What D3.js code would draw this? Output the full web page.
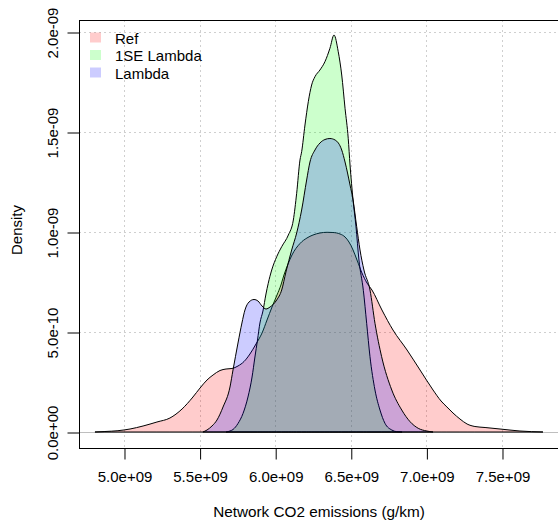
<!DOCTYPE html>
<html>
<head>
<meta charset="utf-8">
<script src="https://cdn.jsdelivr.net/npm/d3@7"></script>
<style>
  html, body { margin: 0; padding: 0; background: #fff; }
  svg { display: block; }
  text { font-family: "Liberation Sans", Arial, sans-serif; fill: #000; }
</style>
</head>
<body>
<svg id="chart" width="558" height="524"></svg>
<script>
// ---- Data (x in units of 1e9 g/km, density in units of 1e-9) ----
const seriesNames = ["Ref", "1SE Lambda", "Lambda"];
const seriesColors = ["rgba(255,0,0,0.2)", "rgba(0,255,0,0.2)", "rgba(0,0,255,0.2)"];

const refX = [4.808, 4.874, 4.960, 5.040, 5.126, 5.218, 5.304, 5.384, 5.456, 5.503, 5.549, 5.589, 5.635, 5.675, 5.714, 5.754, 5.794, 5.833, 5.873, 5.913, 5.946, 5.979, 6.012, 6.038, 6.058, 6.085, 6.111, 6.164, 6.210, 6.250, 6.296, 6.343, 6.382, 6.429, 6.462, 6.488, 6.515, 6.541, 6.574, 6.607, 6.640, 6.706, 6.779, 6.872, 6.958, 7.044, 7.097, 7.136, 7.176, 7.222, 7.269, 7.321, 7.388, 7.487, 7.619, 7.771];
const refY = [0, 0.0025, 0.0065, 0.015, 0.03, 0.05, 0.07, 0.115, 0.175, 0.22, 0.26, 0.285, 0.3075, 0.315, 0.3175, 0.33, 0.3525, 0.39, 0.44, 0.495, 0.56, 0.625, 0.685, 0.735, 0.785, 0.84, 0.885, 0.9425, 0.97, 0.985, 0.995, 0.9985, 0.9975, 0.99, 0.975, 0.95, 0.91, 0.86, 0.795, 0.745, 0.71, 0.61, 0.51, 0.41, 0.31, 0.21, 0.155, 0.125, 0.095, 0.065, 0.04, 0.0275, 0.0225, 0.015, 0.005, 0];

const seX = [5.675, 5.701, 5.721, 5.754, 5.787, 5.820, 5.847, 5.866, 5.883, 5.899, 5.919, 5.939, 5.954, 5.977, 6.010, 6.043, 6.087, 6.120, 6.142, 6.164, 6.175, 6.197, 6.219, 6.241, 6.263, 6.296, 6.329, 6.362, 6.389, 6.417, 6.440, 6.462, 6.483, 6.495, 6.515, 6.534, 6.554, 6.583, 6.605, 6.627, 6.660, 6.693, 6.726, 6.771, 6.804, 6.839];
const seY = [0, 0.005, 0.0125, 0.0425, 0.0925, 0.175, 0.275, 0.375, 0.46, 0.545, 0.605, 0.69, 0.7435, 0.81, 0.8765, 0.9265, 0.985, 1.06, 1.1935, 1.36, 1.4015, 1.535, 1.6515, 1.735, 1.7765, 1.81, 1.8515, 1.9185, 1.985, 1.9015, 1.785, 1.6185, 1.4685, 1.335, 1.16, 1.03, 0.86, 0.7085, 0.5435, 0.3765, 0.21, 0.11, 0.0435, 0.01, 0.0015, 0];

const lamX = [5.522, 5.549, 5.582, 5.615, 5.655, 5.701, 5.721, 5.754, 5.780, 5.800, 5.827, 5.860, 5.886, 5.913, 5.939, 5.966, 6.010, 6.043, 6.071, 6.109, 6.142, 6.175, 6.208, 6.230, 6.263, 6.296, 6.329, 6.362, 6.396, 6.440, 6.462, 6.495, 6.515, 6.539, 6.561, 6.587, 6.627, 6.660, 6.704, 6.771, 6.837, 6.892, 6.946, 7.002, 7.044];
const lamY = [0, 0.01, 0.03, 0.06, 0.125, 0.225, 0.31, 0.445, 0.545, 0.61, 0.65, 0.6625, 0.655, 0.63, 0.615, 0.625, 0.66, 0.71, 0.8, 0.91, 0.995, 1.11, 1.26, 1.35, 1.41, 1.445, 1.4625, 1.4675, 1.46, 1.41, 1.35, 1.235, 1.16, 1.0265, 0.91, 0.81, 0.71, 0.5435, 0.3765, 0.21, 0.11, 0.0515, 0.0185, 0.005, 0];

const xTicks = [5.0, 5.5, 6.0, 6.5, 7.0, 7.5];
const xTickLabels = ["5.0e+09", "5.5e+09", "6.0e+09", "6.5e+09", "7.0e+09", "7.5e+09"];
const yTicks = [0, 0.5, 1.0, 1.5, 2.0];
const yTickLabels = ["0.0e+00", "5.0e-10", "1.0e-09", "1.5e-09", "2.0e-09"];
const xTitle = "Network CO2 emissions (g/km)";
const yTitle = "Density";

// ---- Layout ----
const box = { left: 79, top: 20, right: 561, bottom: 448 };
const svg = d3.select("#chart");
const FONT = '"Liberation Sans", Arial, sans-serif';

const x = d3.scaleLinear().domain([4.7024, 7.8903]).range([box.left, box.right]);
const y = d3.scaleLinear().domain([-0.08, 2.06]).range([box.bottom, box.top]);

svg.append("defs").append("clipPath").attr("id", "plotclip")
  .append("rect").attr("x", box.left).attr("y", box.top)
  .attr("width", box.right - box.left).attr("height", box.bottom - box.top);

const plot = svg.append("g").attr("clip-path", "url(#plotclip)");

// grid (dotted light gray)
plot.selectAll("line.vgrid").data(xTicks).enter().append("line")
  .attr("x1", d => Math.round(x(d)) + 0.5).attr("x2", d => Math.round(x(d)) + 0.5)
  .attr("y1", box.top).attr("y2", box.bottom)
  .attr("stroke", "#cfcfcf").attr("stroke-width", 1).attr("stroke-dasharray", "2,3");
plot.selectAll("line.hgrid").data(yTicks).enter().append("line")
  .attr("y1", d => Math.round(y(d)) + 0.5).attr("y2", d => Math.round(y(d)) + 0.5)
  .attr("x1", box.left).attr("x2", box.right)
  .attr("stroke", "#cfcfcf").attr("stroke-width", 1).attr("stroke-dasharray", "2,3");

// zero line
plot.append("line")
  .attr("x1", box.left).attr("x2", box.right)
  .attr("y1", Math.round(y(0)) + 0.5).attr("y2", Math.round(y(0)) + 0.5)
  .attr("stroke", "#bebebe").attr("stroke-width", 1);

// density polygons
const seriesData = [d3.zip(refX, refY), d3.zip(seX, seY), d3.zip(lamX, lamY)];
const area = d3.area()
  .x(d => x(d[0]))
  .y0(y(0))
  .y1(d => y(d[1]))
  .curve(d3.curveMonotoneX);

seriesData.forEach((pts, i) => {
  plot.append("path")
    .attr("d", area(pts))
    .attr("fill", seriesColors[i])
    .attr("stroke", "#000")
    .attr("stroke-width", 1)
    .attr("stroke-linejoin", "round");
});

// box
svg.append("rect")
  .attr("x", box.left + 0.5).attr("y", box.top + 0.5)
  .attr("width", box.right - box.left).attr("height", box.bottom - box.top)
  .attr("fill", "none").attr("stroke", "#000").attr("stroke-width", 1);

// x axis
const xAxis = d3.axisBottom(x).tickValues(xTicks).tickSize(11).tickPadding(12)
  .tickFormat((d, i) => xTickLabels[i]);
const gx = svg.append("g").attr("transform", `translate(0.5,${box.bottom + 0.5})`).call(xAxis);
gx.select(".domain").remove();
gx.selectAll("line").attr("stroke", "#000");
gx.selectAll("text").attr("font-size", "15px").attr("fill", "#000").style("font-family", FONT);

// y axis
const yAxis = d3.axisLeft(y).tickValues(yTicks).tickSize(12).tickPadding(0)
  .tickFormat((d, i) => yTickLabels[i]);
const gy = svg.append("g").attr("transform", `translate(${box.left + 0.5},0.5)`).call(yAxis);
gy.select(".domain").remove();
gy.selectAll("line").attr("stroke", "#000");
gy.selectAll("text")
  .attr("x", 0).attr("dy", null)
  .attr("text-anchor", "middle")
  .attr("dominant-baseline", "central")
  .attr("transform", "translate(-27,0) rotate(-90)")
  .attr("font-size", "15px").attr("fill", "#000")
  .style("font-family", FONT);

// axis titles
svg.append("text")
  .attr("x", 319)
  .attr("y", 517)
  .attr("text-anchor", "middle")
  .attr("font-size", "15.3px")
  .text(xTitle);

svg.append("text")
  .attr("transform", `translate(16,${(box.top + box.bottom) / 2 - 4}) rotate(-90)`)
  .attr("text-anchor", "middle")
  .attr("dominant-baseline", "central")
  .attr("font-size", "15px")
  .text(yTitle);

// legend
const legend = svg.append("g");
seriesNames.forEach((name, i) => {
  const cy = 37.5 + i * 17.5;
  legend.append("rect")
    .attr("x", 90).attr("y", cy - 5).attr("width", 11).attr("height", 10)
    .attr("fill", seriesColors[i]);
  legend.append("text")
    .attr("x", 115).attr("y", cy + 6)
    .attr("font-size", "15px")
    .text(name);
});
</script>
</body>
</html>
